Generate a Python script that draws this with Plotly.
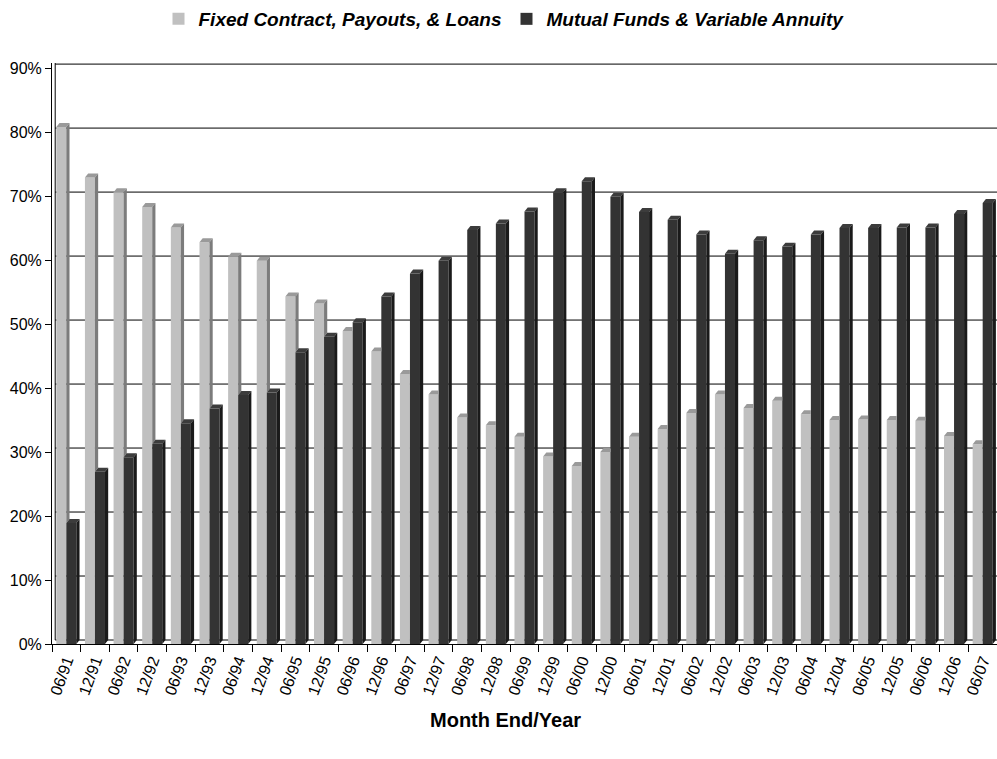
import plotly.graph_objects as go

# Month-end periods
periods = ["06/91", "12/91", "06/92", "12/92", "06/93", "12/93", "06/94", "12/94",
           "06/95", "12/95", "06/96", "12/96", "06/97", "12/97", "06/98", "12/98",
           "06/99", "12/99", "06/00", "12/00", "06/01", "12/01", "06/02", "12/02",
           "06/03", "12/03", "06/04", "12/04", "06/05", "12/05", "06/06", "12/06",
           "06/07"]

# Share of assets (%)
fixed_share = [80.8, 72.9, 70.6, 68.3, 65.1, 62.8, 60.5, 59.9, 54.3, 53.2, 48.9,
               45.7, 42.2, 39.0, 35.4, 34.2, 32.4, 29.3, 27.8, 30.0, 32.4, 33.6,
               36.1, 39.0, 36.9, 38.0, 35.9, 35.0, 35.1, 35.0, 34.9, 32.5, 31.2]
variable_share = [18.9, 26.9, 29.2, 31.3, 34.5, 36.8, 38.9, 39.3, 45.6, 48.0, 50.3,
                  54.3, 57.9, 59.9, 64.7, 65.7, 67.6, 70.6, 72.3, 69.9, 67.5, 66.3,
                  64.0, 61.0, 63.1, 62.1, 64.0, 65.0, 65.0, 65.1, 65.1, 67.2, 68.9]

series_names = ["Fixed Contract, Payouts, & Loans", "Mutual Funds & Variable Annuity"]
y_ticks = [0, 10, 20, 30, 40, 50, 60, 70, 80, 90]
y_tick_text = ["0%", "10%", "20%", "30%", "40%", "50%", "60%", "70%", "80%", "90%"]
x_title = "Month End/Year"

FONT = "Arial, Liberation Sans, Helvetica, sans-serif"
LIGHT, LIGHT_TOP, LIGHT_SIDE = "#c0c0c0", "#9a9a9a", "#7c7c7c"
DARK, DARK_TOP, DARK_SIDE = "#333333", "#3c3c3c", "#1a1a1a"

W, H = 997, 759
M_L, M_R, M_T, M_B = 52, 0, 62, 115
BARGAP = 0.30
n = len(periods)
plot_w = W - M_L - M_R
plot_h = H - M_T - M_B
px_per_unit = 6.41                      # pixels per percentage point
y_max = plot_h / px_per_unit
px_per_cat = plot_w / n

# depth of the pseudo-3D extrusion, in axis units
dx = 3.2 / px_per_cat
dy = 4.0 / px_per_unit
bw = (1 - BARGAP) / 2                   # width of one bar in category units

fig = go.Figure()
fig.add_trace(go.Bar(x=periods, y=fixed_share, name=series_names[0],
                     marker=dict(color=LIGHT, line=dict(width=0))))
fig.add_trace(go.Bar(x=periods, y=variable_share, name=series_names[1],
                     marker=dict(color=DARK, line=dict(width=0))))


def poly(pts):
    return "M " + " L ".join(f"{x:.4f},{y:.4f}" for x, y in pts) + " Z"


shapes = []
# back-wall gridlines (raised by the depth offset)
for t in y_ticks:
    shapes.append(dict(type="line", xref="x", yref="y", layer="below",
                       x0=-0.5 + dx, x1=n - 0.5, y0=t + dy, y1=t + dy,
                       line=dict(color="#000000", width=1)))
# back edge of the side wall
shapes.append(dict(type="line", xref="x", yref="y", layer="below",
                   x0=-0.5 + dx, x1=-0.5 + dx, y0=dy, y1=y_max,
                   line=dict(color="#000000", width=1)))

# top and side faces of each column
for k in range(n):
    vl, vd = fixed_share[k], variable_share[k]
    L = k - bw
    R = k                 # right edge of the light column / left edge of the dark one
    Rd = k + bw
    # light column top face
    if vl >= vd:
        top = [(L, vl), (R, vl), (R + dx, vl + dy), (L + dx, vl + dy)]
    else:
        top = [(L, vl), (R, vl), (R, vl + dy), (L + dx, vl + dy)]
    shapes.append(dict(type="path", xref="x", yref="y", layer="above",
                       path=poly(top), fillcolor=LIGHT_TOP, line=dict(width=0)))
    # light column side face, visible only above the dark column
    if vl > vd:
        side = [(R, vd), (R, vl), (R + dx, vl + dy), (R + dx, vd + dy)]
        shapes.append(dict(type="path", xref="x", yref="y", layer="above",
                           path=poly(side), fillcolor=LIGHT_SIDE, line=dict(width=0)))
    # dark column top face
    shapes.append(dict(type="path", xref="x", yref="y", layer="above",
                       path=poly([(R, vd), (Rd, vd), (Rd + dx, vd + dy), (R + dx, vd + dy)]),
                       fillcolor=DARK_TOP, line=dict(width=0)))
    # dark column side face
    shapes.append(dict(type="path", xref="x", yref="y", layer="above",
                       path=poly([(Rd, 0), (Rd, vd), (Rd + dx, vd + dy), (Rd + dx, dy)]),
                       fillcolor=DARK_SIDE, line=dict(width=0)))

fig.update_layout(
    width=W, height=H,
    margin=dict(l=M_L, r=M_R, t=M_T, b=M_B, pad=0),
    paper_bgcolor="white", plot_bgcolor="white",
    barmode="group", bargap=BARGAP, bargroupgap=0,
    font=dict(family=FONT, color="#000000"),
    shapes=shapes,
    showlegend=True,
    legend=dict(orientation="h", x=(504 - M_L) / plot_w, xanchor="center",
                y=1 + (M_T - 18) / plot_h, yanchor="middle",
                font=dict(size=19, family=FONT, weight="bold", style="italic"),
                itemclick=False, itemdoubleclick=False),
    xaxis=dict(
        type="category", range=[-0.5, n - 0.5],
        tickson="boundaries", ticks="outside", ticklen=7, tickcolor="#000000",
        tickangle=-70, tickfont=dict(size=16, family=FONT),
        showline=True, linecolor="#000000", linewidth=1,
        showgrid=False, zeroline=False,
    ),
    yaxis=dict(
        range=[0, y_max], tickmode="array", tickvals=y_ticks, ticktext=y_tick_text,
        ticks="outside", ticklen=6, tickcolor="#000000",
        tickfont=dict(size=16, family=FONT),
        showline=True, linecolor="#000000", linewidth=1,
        showgrid=False, zeroline=False,
    ),
    annotations=[dict(
        text=f"<b>{x_title}</b>", xref="paper", yref="paper",
        x=(505 - M_L) / plot_w, y=-(720 - (H - M_B)) / plot_h,
        xanchor="center", yanchor="middle", showarrow=False,
        font=dict(size=20, family=FONT),
    )],
)

fig.write_html("out.html")
